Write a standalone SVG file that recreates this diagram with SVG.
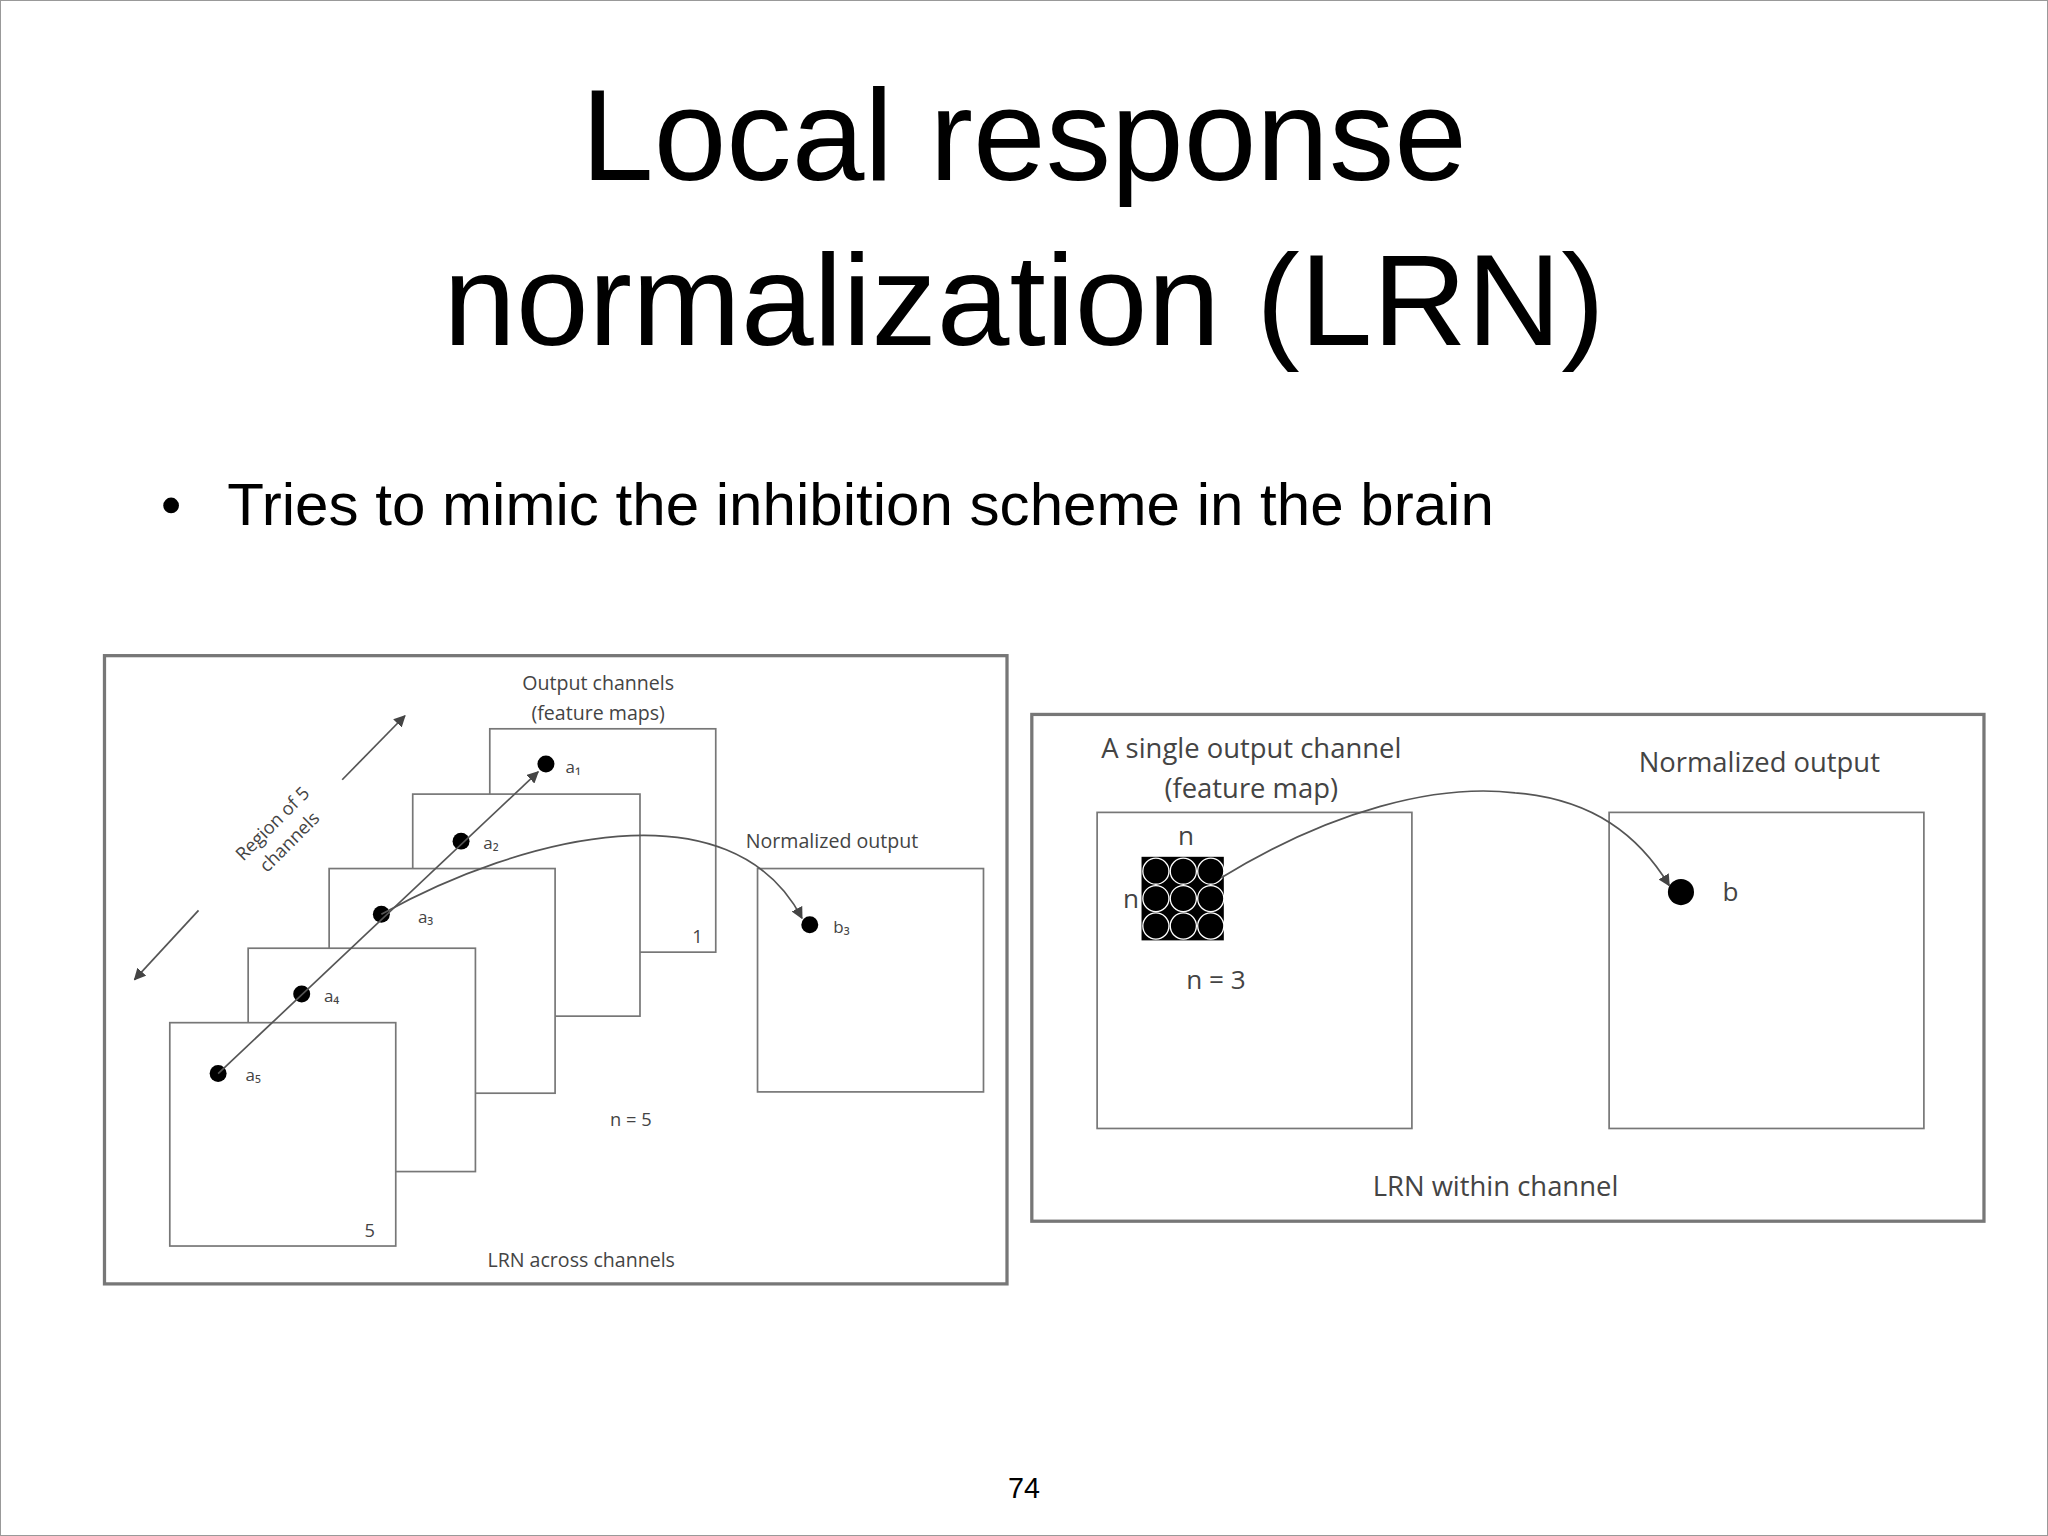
<svg xmlns="http://www.w3.org/2000/svg" width="2048" height="1536" viewBox="0 0 2048 1536">
<style>
.t{font-family:"Liberation Sans",Arial,sans-serif;fill:#000}
.s{font-family:"Open Sans","Liberation Sans",sans-serif;fill:#444}
.sq{fill:#fff;stroke:#777;stroke-width:1.3}
.ln{fill:none;stroke:#555;stroke-width:1.3}
</style>
<defs>
<marker id="ah" viewBox="0 0 10 10" refX="9" refY="5" markerWidth="7" markerHeight="7" orient="auto-start-reverse"><path d="M0,0L10,5L0,10z" fill="#444"/></marker>
</defs>
<rect x="0.5" y="0.5" width="2047" height="1535" fill="#fff" stroke="#999"/>
<g transform="scale(1.3061)">
<text class="t" x="784" y="138" text-anchor="middle" font-size="100">Local response</text>
<text class="t" x="784" y="264" text-anchor="middle" font-size="100">normalization (LRN)</text>
<circle cx="131" cy="387" r="6" fill="#000"/>
<text class="t" x="174" y="402" font-size="46">Tries to mimic the inhibition scheme in the brain</text>
<text class="t" x="784" y="1147" text-anchor="middle" font-size="22" fill="#333">74</text>

<g id="left-panel">
<rect x="80" y="502" width="691" height="481" fill="#fff" stroke="#777" stroke-width="2.5"/>
<text class="s" x="458" y="528" text-anchor="middle" font-size="15">Output channels</text>
<text class="s" x="458" y="551" text-anchor="middle" font-size="15">(feature maps)</text>
<g id="ch1"><rect class="sq" x="375" y="558" width="173" height="171"/><text class="s" x="530" y="722" font-size="14">1</text></g>
<g id="ch2"><rect class="sq" x="316" y="608" width="174" height="170"/></g>
<g id="ch3"><rect class="sq" x="252" y="665" width="173" height="172"/></g>
<g id="ch4"><rect class="sq" x="190" y="726" width="174" height="171"/></g>
<g id="ch5"><rect class="sq" x="130" y="783" width="173" height="171"/><text class="s" x="279" y="947" font-size="14">5</text></g>
<g id="norm-out"><rect class="sq" x="580" y="665" width="173" height="171"/>
<text class="s" x="637" y="649" text-anchor="middle" font-size="15">Normalized output</text></g>
<g id="a1"><circle cx="418" cy="585" r="6.5" fill="#000"/><text class="s" x="433" y="592" font-size="13">a₁</text></g>
<g id="a2"><circle cx="353" cy="644" r="6.5" fill="#000"/><text class="s" x="370" y="650" font-size="13">a₂</text></g>
<g id="a3"><circle cx="292" cy="700" r="6.5" fill="#000"/><text class="s" x="320" y="707" font-size="13">a₃</text></g>
<g id="a4"><circle cx="231" cy="761" r="6.5" fill="#000"/><text class="s" x="248" y="767" font-size="13">a₄</text></g>
<g id="a5"><circle cx="167" cy="822" r="6.5" fill="#000"/><text class="s" x="188" y="828" font-size="13">a₅</text></g>
<g id="b3"><circle cx="620" cy="708" r="6.5" fill="#000"/><text class="s" x="638" y="714" font-size="13">b₃</text></g>
<text class="s" x="483" y="862" text-anchor="middle" font-size="14">n = 5</text>
<text class="s" x="445" y="970" text-anchor="middle" font-size="15">LRN across channels</text>
<text class="s" transform="translate(212,634) rotate(-45)" text-anchor="middle" font-size="14">Region of 5</text>
<text class="s" transform="translate(225,648) rotate(-45)" text-anchor="middle" font-size="14">channels</text>
</g>

<g id="right-panel">
<rect x="790" y="547" width="729" height="388" fill="#fff" stroke="#777" stroke-width="2.5"/>
<text class="s" x="958" y="580" text-anchor="middle" font-size="21">A single output channel</text>
<text class="s" x="958" y="611" text-anchor="middle" font-size="21">(feature map)</text>
<g id="fmap"><rect class="sq" x="840" y="622" width="241" height="242"/></g>
<g id="norm-out2"><rect class="sq" x="1232" y="622" width="241" height="242"/>
<text class="s" x="1347" y="591" text-anchor="middle" font-size="21">Normalized output</text></g>
<g id="grid">
<rect x="874" y="656" width="63" height="64" fill="#000"/>
<g fill="#000" stroke="#fff" stroke-width="1">
<circle cx="885" cy="667" r="10"/><circle cx="906" cy="667" r="10"/><circle cx="927" cy="667" r="10"/>
<circle cx="885" cy="688" r="10"/><circle cx="906" cy="688" r="10"/><circle cx="927" cy="688" r="10"/>
<circle cx="885" cy="709" r="10"/><circle cx="906" cy="709" r="10"/><circle cx="927" cy="709" r="10"/>
</g>
<text class="s" x="908" y="647" text-anchor="middle" font-size="20">n</text>
<text class="s" x="866" y="695" text-anchor="middle" font-size="20">n</text>
<text class="s" x="931" y="757" text-anchor="middle" font-size="20">n = 3</text>
</g>
<g id="b"><circle cx="1287" cy="683" r="10" fill="#000"/><text class="s" x="1325" y="690" text-anchor="middle" font-size="20">b</text></g>
<text class="s" x="1145" y="916" text-anchor="middle" font-size="21">LRN within channel</text>
</g>

<g id="connectors">
<line class="ln" x1="167" y1="822" x2="412" y2="591" marker-end="url(#ah)"/>
<path class="ln" d="M292,700 C400,640 560,600 614,703" marker-end="url(#ah)"/>
<line class="ln" x1="152" y1="697" x2="103" y2="750" marker-end="url(#ah)"/>
<line class="ln" x1="262" y1="597" x2="310" y2="548" marker-end="url(#ah)"/>
<path class="ln" stroke-width="1.8" d="M935,672 C1020,620 1100,600 1160,607 C1220,612 1255,640 1278,678" marker-end="url(#ah)"/>
</g>
</g>
</svg>
